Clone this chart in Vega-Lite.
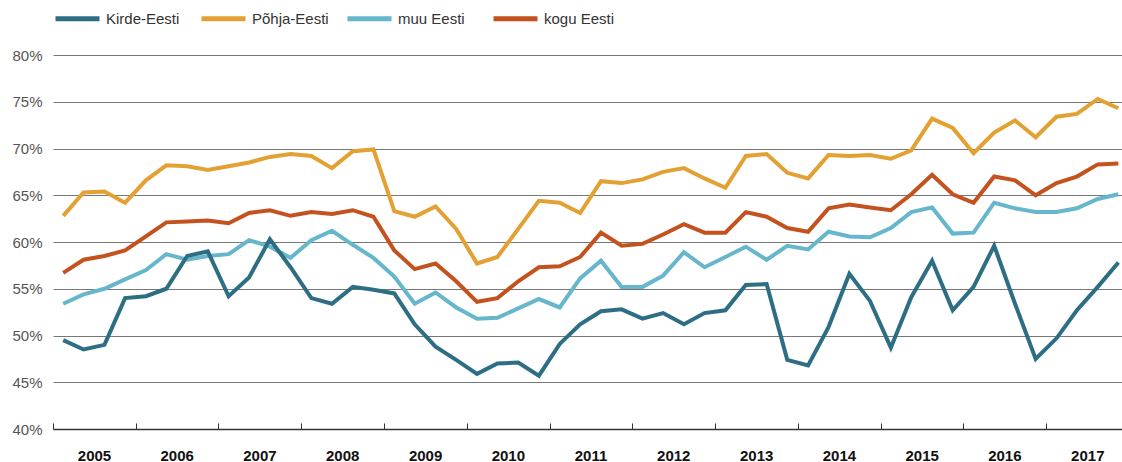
{
  "$schema": "https://vega.github.io/schema/vega-lite/v6.json",
  "width": 1069,
  "height": 374,
  "autosize": {"type": "none"},
  "padding": {"left": 53, "top": 55, "right": 0, "bottom": 33},
  "background": "white",
  "config": {"view": {"stroke": null}, "font": "Liberation Sans"},
  "data": {"values": [
    {"kvartal":"2005-02-15","s":"Põhja-Eesti","v":62.8},{"kvartal":"2005-05-16","s":"Põhja-Eesti","v":65.3},{"kvartal":"2005-08-16","s":"Põhja-Eesti","v":65.4},{"kvartal":"2005-11-15","s":"Põhja-Eesti","v":64.2},
    {"kvartal":"2006-02-15","s":"Põhja-Eesti","v":66.6},{"kvartal":"2006-05-16","s":"Põhja-Eesti","v":68.2},{"kvartal":"2006-08-16","s":"Põhja-Eesti","v":68.1},{"kvartal":"2006-11-15","s":"Põhja-Eesti","v":67.7},
    {"kvartal":"2007-02-15","s":"Põhja-Eesti","v":68.1},{"kvartal":"2007-05-16","s":"Põhja-Eesti","v":68.5},{"kvartal":"2007-08-16","s":"Põhja-Eesti","v":69.1},{"kvartal":"2007-11-15","s":"Põhja-Eesti","v":69.4},
    {"kvartal":"2008-02-15","s":"Põhja-Eesti","v":69.2},{"kvartal":"2008-05-16","s":"Põhja-Eesti","v":67.9},{"kvartal":"2008-08-16","s":"Põhja-Eesti","v":69.7},{"kvartal":"2008-11-15","s":"Põhja-Eesti","v":69.9},
    {"kvartal":"2009-02-15","s":"Põhja-Eesti","v":63.3},{"kvartal":"2009-05-16","s":"Põhja-Eesti","v":62.7},{"kvartal":"2009-08-16","s":"Põhja-Eesti","v":63.8},{"kvartal":"2009-11-15","s":"Põhja-Eesti","v":61.4},
    {"kvartal":"2010-02-15","s":"Põhja-Eesti","v":57.7},{"kvartal":"2010-05-16","s":"Põhja-Eesti","v":58.4},{"kvartal":"2010-08-16","s":"Põhja-Eesti","v":61.4},{"kvartal":"2010-11-15","s":"Põhja-Eesti","v":64.4},
    {"kvartal":"2011-02-15","s":"Põhja-Eesti","v":64.2},{"kvartal":"2011-05-16","s":"Põhja-Eesti","v":63.1},{"kvartal":"2011-08-16","s":"Põhja-Eesti","v":66.5},{"kvartal":"2011-11-15","s":"Põhja-Eesti","v":66.3},
    {"kvartal":"2012-02-15","s":"Põhja-Eesti","v":66.7},{"kvartal":"2012-05-16","s":"Põhja-Eesti","v":67.5},{"kvartal":"2012-08-16","s":"Põhja-Eesti","v":67.9},{"kvartal":"2012-11-15","s":"Põhja-Eesti","v":66.8},
    {"kvartal":"2013-02-15","s":"Põhja-Eesti","v":65.8},{"kvartal":"2013-05-16","s":"Põhja-Eesti","v":69.2},{"kvartal":"2013-08-16","s":"Põhja-Eesti","v":69.4},{"kvartal":"2013-11-15","s":"Põhja-Eesti","v":67.4},
    {"kvartal":"2014-02-15","s":"Põhja-Eesti","v":66.8},{"kvartal":"2014-05-16","s":"Põhja-Eesti","v":69.3},{"kvartal":"2014-08-16","s":"Põhja-Eesti","v":69.2},{"kvartal":"2014-11-15","s":"Põhja-Eesti","v":69.3},
    {"kvartal":"2015-02-15","s":"Põhja-Eesti","v":68.9},{"kvartal":"2015-05-16","s":"Põhja-Eesti","v":69.8},{"kvartal":"2015-08-16","s":"Põhja-Eesti","v":73.2},{"kvartal":"2015-11-15","s":"Põhja-Eesti","v":72.2},
    {"kvartal":"2016-02-15","s":"Põhja-Eesti","v":69.5},{"kvartal":"2016-05-16","s":"Põhja-Eesti","v":71.7},{"kvartal":"2016-08-16","s":"Põhja-Eesti","v":73.0},{"kvartal":"2016-11-15","s":"Põhja-Eesti","v":71.2},
    {"kvartal":"2017-02-15","s":"Põhja-Eesti","v":73.4},{"kvartal":"2017-05-16","s":"Põhja-Eesti","v":73.7},{"kvartal":"2017-08-16","s":"Põhja-Eesti","v":75.3},{"kvartal":"2017-11-15","s":"Põhja-Eesti","v":74.3},

    {"kvartal":"2005-02-15","s":"muu Eesti","v":53.4},{"kvartal":"2005-05-16","s":"muu Eesti","v":54.4},{"kvartal":"2005-08-16","s":"muu Eesti","v":55.0},{"kvartal":"2005-11-15","s":"muu Eesti","v":56.0},
    {"kvartal":"2006-02-15","s":"muu Eesti","v":57.0},{"kvartal":"2006-05-16","s":"muu Eesti","v":58.7},{"kvartal":"2006-08-16","s":"muu Eesti","v":58.1},{"kvartal":"2006-11-15","s":"muu Eesti","v":58.5},
    {"kvartal":"2007-02-15","s":"muu Eesti","v":58.7},{"kvartal":"2007-05-16","s":"muu Eesti","v":60.2},{"kvartal":"2007-08-16","s":"muu Eesti","v":59.5},{"kvartal":"2007-11-15","s":"muu Eesti","v":58.3},
    {"kvartal":"2008-02-15","s":"muu Eesti","v":60.2},{"kvartal":"2008-05-16","s":"muu Eesti","v":61.2},{"kvartal":"2008-08-16","s":"muu Eesti","v":59.7},{"kvartal":"2008-11-15","s":"muu Eesti","v":58.3},
    {"kvartal":"2009-02-15","s":"muu Eesti","v":56.3},{"kvartal":"2009-05-16","s":"muu Eesti","v":53.4},{"kvartal":"2009-08-16","s":"muu Eesti","v":54.6},{"kvartal":"2009-11-15","s":"muu Eesti","v":53.0},
    {"kvartal":"2010-02-15","s":"muu Eesti","v":51.8},{"kvartal":"2010-05-16","s":"muu Eesti","v":51.9},{"kvartal":"2010-08-16","s":"muu Eesti","v":52.9},{"kvartal":"2010-11-15","s":"muu Eesti","v":53.9},
    {"kvartal":"2011-02-15","s":"muu Eesti","v":53.0},{"kvartal":"2011-05-16","s":"muu Eesti","v":56.1},{"kvartal":"2011-08-16","s":"muu Eesti","v":58.0},{"kvartal":"2011-11-15","s":"muu Eesti","v":55.2},
    {"kvartal":"2012-02-15","s":"muu Eesti","v":55.2},{"kvartal":"2012-05-16","s":"muu Eesti","v":56.4},{"kvartal":"2012-08-16","s":"muu Eesti","v":58.9},{"kvartal":"2012-11-15","s":"muu Eesti","v":57.3},
    {"kvartal":"2013-02-15","s":"muu Eesti","v":58.4},{"kvartal":"2013-05-16","s":"muu Eesti","v":59.5},{"kvartal":"2013-08-16","s":"muu Eesti","v":58.1},{"kvartal":"2013-11-15","s":"muu Eesti","v":59.6},
    {"kvartal":"2014-02-15","s":"muu Eesti","v":59.2},{"kvartal":"2014-05-16","s":"muu Eesti","v":61.1},{"kvartal":"2014-08-16","s":"muu Eesti","v":60.6},{"kvartal":"2014-11-15","s":"muu Eesti","v":60.5},
    {"kvartal":"2015-02-15","s":"muu Eesti","v":61.5},{"kvartal":"2015-05-16","s":"muu Eesti","v":63.2},{"kvartal":"2015-08-16","s":"muu Eesti","v":63.7},{"kvartal":"2015-11-15","s":"muu Eesti","v":60.9},
    {"kvartal":"2016-02-15","s":"muu Eesti","v":61.0},{"kvartal":"2016-05-16","s":"muu Eesti","v":64.2},{"kvartal":"2016-08-16","s":"muu Eesti","v":63.6},{"kvartal":"2016-11-15","s":"muu Eesti","v":63.2},
    {"kvartal":"2017-02-15","s":"muu Eesti","v":63.2},{"kvartal":"2017-05-16","s":"muu Eesti","v":63.6},{"kvartal":"2017-08-16","s":"muu Eesti","v":64.6},{"kvartal":"2017-11-15","s":"muu Eesti","v":65.1},

    {"kvartal":"2005-02-15","s":"kogu Eesti","v":56.7},{"kvartal":"2005-05-16","s":"kogu Eesti","v":58.1},{"kvartal":"2005-08-16","s":"kogu Eesti","v":58.5},{"kvartal":"2005-11-15","s":"kogu Eesti","v":59.1},
    {"kvartal":"2006-02-15","s":"kogu Eesti","v":60.6},{"kvartal":"2006-05-16","s":"kogu Eesti","v":62.1},{"kvartal":"2006-08-16","s":"kogu Eesti","v":62.2},{"kvartal":"2006-11-15","s":"kogu Eesti","v":62.3},
    {"kvartal":"2007-02-15","s":"kogu Eesti","v":62.0},{"kvartal":"2007-05-16","s":"kogu Eesti","v":63.1},{"kvartal":"2007-08-16","s":"kogu Eesti","v":63.4},{"kvartal":"2007-11-15","s":"kogu Eesti","v":62.8},
    {"kvartal":"2008-02-15","s":"kogu Eesti","v":63.2},{"kvartal":"2008-05-16","s":"kogu Eesti","v":63.0},{"kvartal":"2008-08-16","s":"kogu Eesti","v":63.4},{"kvartal":"2008-11-15","s":"kogu Eesti","v":62.7},
    {"kvartal":"2009-02-15","s":"kogu Eesti","v":59.1},{"kvartal":"2009-05-16","s":"kogu Eesti","v":57.1},{"kvartal":"2009-08-16","s":"kogu Eesti","v":57.7},{"kvartal":"2009-11-15","s":"kogu Eesti","v":55.8},
    {"kvartal":"2010-02-15","s":"kogu Eesti","v":53.6},{"kvartal":"2010-05-16","s":"kogu Eesti","v":54.0},{"kvartal":"2010-08-16","s":"kogu Eesti","v":55.8},{"kvartal":"2010-11-15","s":"kogu Eesti","v":57.3},
    {"kvartal":"2011-02-15","s":"kogu Eesti","v":57.4},{"kvartal":"2011-05-16","s":"kogu Eesti","v":58.4},{"kvartal":"2011-08-16","s":"kogu Eesti","v":61.0},{"kvartal":"2011-11-15","s":"kogu Eesti","v":59.6},
    {"kvartal":"2012-02-15","s":"kogu Eesti","v":59.8},{"kvartal":"2012-05-16","s":"kogu Eesti","v":60.8},{"kvartal":"2012-08-16","s":"kogu Eesti","v":61.9},{"kvartal":"2012-11-15","s":"kogu Eesti","v":61.0},
    {"kvartal":"2013-02-15","s":"kogu Eesti","v":61.0},{"kvartal":"2013-05-16","s":"kogu Eesti","v":63.2},{"kvartal":"2013-08-16","s":"kogu Eesti","v":62.7},{"kvartal":"2013-11-15","s":"kogu Eesti","v":61.5},
    {"kvartal":"2014-02-15","s":"kogu Eesti","v":61.1},{"kvartal":"2014-05-16","s":"kogu Eesti","v":63.6},{"kvartal":"2014-08-16","s":"kogu Eesti","v":64.0},{"kvartal":"2014-11-15","s":"kogu Eesti","v":63.7},
    {"kvartal":"2015-02-15","s":"kogu Eesti","v":63.4},{"kvartal":"2015-05-16","s":"kogu Eesti","v":65.1},{"kvartal":"2015-08-16","s":"kogu Eesti","v":67.2},{"kvartal":"2015-11-15","s":"kogu Eesti","v":65.1},
    {"kvartal":"2016-02-15","s":"kogu Eesti","v":64.2},{"kvartal":"2016-05-16","s":"kogu Eesti","v":67.0},{"kvartal":"2016-08-16","s":"kogu Eesti","v":66.6},{"kvartal":"2016-11-15","s":"kogu Eesti","v":65.0},
    {"kvartal":"2017-02-15","s":"kogu Eesti","v":66.3},{"kvartal":"2017-05-16","s":"kogu Eesti","v":67.0},{"kvartal":"2017-08-16","s":"kogu Eesti","v":68.3},{"kvartal":"2017-11-15","s":"kogu Eesti","v":68.4},

    {"kvartal":"2005-02-15","s":"Kirde-Eesti","v":49.5},{"kvartal":"2005-05-16","s":"Kirde-Eesti","v":48.5},{"kvartal":"2005-08-16","s":"Kirde-Eesti","v":49.0},{"kvartal":"2005-11-15","s":"Kirde-Eesti","v":54.0},
    {"kvartal":"2006-02-15","s":"Kirde-Eesti","v":54.2},{"kvartal":"2006-05-16","s":"Kirde-Eesti","v":55.0},{"kvartal":"2006-08-16","s":"Kirde-Eesti","v":58.5},{"kvartal":"2006-11-15","s":"Kirde-Eesti","v":59.0},
    {"kvartal":"2007-02-15","s":"Kirde-Eesti","v":54.2},{"kvartal":"2007-05-16","s":"Kirde-Eesti","v":56.2},{"kvartal":"2007-08-16","s":"Kirde-Eesti","v":60.3},{"kvartal":"2007-11-15","s":"Kirde-Eesti","v":57.3},
    {"kvartal":"2008-02-15","s":"Kirde-Eesti","v":54.0},{"kvartal":"2008-05-16","s":"Kirde-Eesti","v":53.4},{"kvartal":"2008-08-16","s":"Kirde-Eesti","v":55.2},{"kvartal":"2008-11-15","s":"Kirde-Eesti","v":54.9},
    {"kvartal":"2009-02-15","s":"Kirde-Eesti","v":54.5},{"kvartal":"2009-05-16","s":"Kirde-Eesti","v":51.2},{"kvartal":"2009-08-16","s":"Kirde-Eesti","v":48.8},{"kvartal":"2009-11-15","s":"Kirde-Eesti","v":47.4},
    {"kvartal":"2010-02-15","s":"Kirde-Eesti","v":45.9},{"kvartal":"2010-05-16","s":"Kirde-Eesti","v":47.0},{"kvartal":"2010-08-16","s":"Kirde-Eesti","v":47.1},{"kvartal":"2010-11-15","s":"Kirde-Eesti","v":45.7},
    {"kvartal":"2011-02-15","s":"Kirde-Eesti","v":49.1},{"kvartal":"2011-05-16","s":"Kirde-Eesti","v":51.2},{"kvartal":"2011-08-16","s":"Kirde-Eesti","v":52.6},{"kvartal":"2011-11-15","s":"Kirde-Eesti","v":52.8},
    {"kvartal":"2012-02-15","s":"Kirde-Eesti","v":51.8},{"kvartal":"2012-05-16","s":"Kirde-Eesti","v":52.4},{"kvartal":"2012-08-16","s":"Kirde-Eesti","v":51.2},{"kvartal":"2012-11-15","s":"Kirde-Eesti","v":52.4},
    {"kvartal":"2013-02-15","s":"Kirde-Eesti","v":52.7},{"kvartal":"2013-05-16","s":"Kirde-Eesti","v":55.4},{"kvartal":"2013-08-16","s":"Kirde-Eesti","v":55.5},{"kvartal":"2013-11-15","s":"Kirde-Eesti","v":47.4},
    {"kvartal":"2014-02-15","s":"Kirde-Eesti","v":46.8},{"kvartal":"2014-05-16","s":"Kirde-Eesti","v":50.9},{"kvartal":"2014-08-16","s":"Kirde-Eesti","v":56.6},{"kvartal":"2014-11-15","s":"Kirde-Eesti","v":53.7},
    {"kvartal":"2015-02-15","s":"Kirde-Eesti","v":48.7},{"kvartal":"2015-05-16","s":"Kirde-Eesti","v":54.1},{"kvartal":"2015-08-16","s":"Kirde-Eesti","v":58.0},{"kvartal":"2015-11-15","s":"Kirde-Eesti","v":52.7},
    {"kvartal":"2016-02-15","s":"Kirde-Eesti","v":55.2},{"kvartal":"2016-05-16","s":"Kirde-Eesti","v":59.6},{"kvartal":"2016-08-16","s":"Kirde-Eesti","v":53.4},{"kvartal":"2016-11-15","s":"Kirde-Eesti","v":47.5},
    {"kvartal":"2017-02-15","s":"Kirde-Eesti","v":49.7},{"kvartal":"2017-05-16","s":"Kirde-Eesti","v":52.7},{"kvartal":"2017-08-16","s":"Kirde-Eesti","v":55.2},{"kvartal":"2017-11-15","s":"Kirde-Eesti","v":57.8}
  ]},
  "mark": {"type": "line", "strokeWidth": 4},
  "encoding": {
    "x": {
      "field": "kvartal", "type": "temporal",
      "scale": {"domain": [{"year": 2005, "month": 1, "date": 1, "utc": true}, {"year": 2017, "month": 12, "date": 1, "utc": true}]},
      "axis": {
        "title": null,
        "values": [
          {"year": 2005, "month": 1, "date": 1, "utc": true},{"year": 2006, "month": 1, "date": 1, "utc": true},{"year": 2007, "month": 1, "date": 1, "utc": true},
          {"year": 2008, "month": 1, "date": 1, "utc": true},{"year": 2009, "month": 1, "date": 1, "utc": true},{"year": 2010, "month": 1, "date": 1, "utc": true},
          {"year": 2011, "month": 1, "date": 1, "utc": true},{"year": 2012, "month": 1, "date": 1, "utc": true},{"year": 2013, "month": 1, "date": 1, "utc": true},
          {"year": 2014, "month": 1, "date": 1, "utc": true},{"year": 2015, "month": 1, "date": 1, "utc": true},{"year": 2016, "month": 1, "date": 1, "utc": true},
          {"year": 2017, "month": 1, "date": 1, "utc": true}
        ],
        "labelExpr": "utcFormat(datum.value, '%Y')",
        "labelOffset": 41,
        "labelFontWeight": "bold",
        "labelFontSize": 15,
        "labelColor": "#111111",
        "labelPadding": 25,
        "labelFlush": false,
        "labelOverlap": false,
        "labelBound": false,
        "tickSize": -6,
        "tickColor": "#333333",
        "tickWidth": 1,
        "domainColor": "#333333",
        "domainWidth": 1.5,
        "grid": false
      }
    },
    "y": {
      "field": "v", "type": "quantitative",
      "scale": {"domain": [40, 80], "nice": false, "zero": false},
      "axis": {
        "title": null,
        "values": [40, 45, 50, 55, 60, 65, 70, 75, 80],
        "labelExpr": "datum.value + '%'",
        "domain": false,
        "ticks": false,
        "labelPadding": 11,
        "labelFontSize": 15,
        "labelColor": "#555555",
        "grid": true,
        "gridColor": "#777777",
        "gridWidth": 1
      }
    },
    "color": {
      "field": "s", "type": "nominal",
      "scale": {
        "domain": ["Kirde-Eesti", "Põhja-Eesti", "muu Eesti", "kogu Eesti"],
        "range": ["#2e6e84", "#e2a132", "#66b6cc", "#c4521f"]
      },
      "legend": {
        "title": null,
        "orient": "none",
        "legendX": 0,
        "legendY": -61,
        "direction": "horizontal",
        "columns": 4,
        "gridAlign": "all",
        "columnPadding": 8,
        "symbolType": "stroke",
        "symbolStrokeWidth": 5,
        "symbolSize": 1936,
        "labelFontSize": 15,
        "labelColor": "#333333",
        "labelOffset": 4
      }
    }
  }
}
